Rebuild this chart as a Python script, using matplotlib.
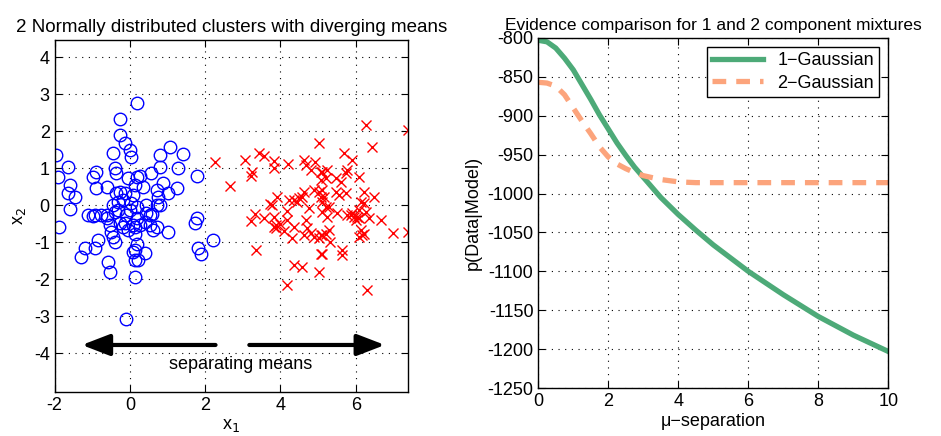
import numpy as np
import matplotlib.pyplot as plt

plt.rcParams['font.family'] = ['Liberation Sans', 'DejaVu Sans']
plt.rcParams['font.size'] = 13
plt.rcParams['axes.unicode_minus'] = False

# cluster 1 (circles)
blue_x = [0.18, -0.27, -0.27, -0.13, 0.0, 0.02, -1.95, -1.65, -1.91, -0.44,
          -0.40, -0.36, -0.98, -0.89, -1.60, -0.89, -0.62, -1.65, -1.47, -1.60,
          -0.04, 0.18, -0.27, -0.13, -0.31, -0.18, 0.09, -0.44, 0.04, -1.11,
          -0.93, -0.62, -0.40, -0.31, -0.09, 1.07, 1.42, 0.80, 0.80, 1.27,
          1.78, 0.27, 0.55, 0.89, 1.24, 0.36, 0.13, 0.71, 1.02, 0.76,
          0.80, 0.18, 0.44, 0.58, 1.78, -1.87, -0.98, -0.76, -0.62, -0.13,
          0.09, 0.13, 0.18, -0.53, -0.49, -0.44, -0.40, -0.27, -0.18, -0.04,
          -0.84, -0.93, -1.20, -1.29, -0.58, -0.53, 0.09, 0.13, 0.13, -0.09,
          1.73, 2.22, 1.82, 1.89, 1.02, 0.62, 0.53, 0.71, 0.40, 0.27,
          0.13, 0.40, 0.22, 0.18, 0.13, -0.36, 0.00, 0.44, 0.53, 0.71]
blue_y = [2.75, 2.34, 1.89, 1.67, 1.49, 1.30, 1.35, 1.04, 0.77, 1.40,
          1.00, 0.86, 0.77, 0.90, 0.54, 0.45, 0.48, 0.32, 0.21, -0.11,
          0.72, 0.77, 0.36, 0.33, 0.09, 0.14, 0.27, 0.00, 0.05, -0.27,
          -0.27, -0.27, -0.18, -0.14, -0.27, 1.58, 1.38, 1.35, 1.04, 1.01,
          0.78, 0.78, 0.87, 0.61, 0.47, 0.49, 0.54, 0.41, 0.33, 0.22,
          0.00, -0.05, -0.22, -0.24, -0.36, -0.60, -0.30, -0.27, -0.36, -0.49,
          -0.54, -0.77, -0.36, -0.54, -0.72, -0.86, -0.99, -0.49, -0.59, -0.68,
          -0.95, -1.17, -1.17, -1.40, -1.53, -1.80, -1.26, -1.49, -1.94, -3.09,
          -0.49, -0.95, -1.17, -1.31, -0.72, -0.68, -0.54, -0.59, -0.45, -0.54,
          -0.59, -1.29, -1.49, -1.04, -1.22, 0.32, -0.14, 0.00, -0.27, 0.00]

# cluster 2 (crosses)
red_x = [2.27, 3.07, 3.42, 3.56, 3.24, 3.22, 3.82, 3.82, 2.67, 3.91,
         3.73, 3.33, 3.22, 3.56, 3.82, 3.87, 3.82, 3.36, 4.20, 5.02,
         4.62, 4.67, 4.93, 4.80, 5.07, 3.78, 4.22, 4.35, 4.49, 4.58,
         4.62, 4.45, 4.89, 5.02, 5.07, 4.76, 3.87, 4.18, 4.18, 4.00,
         4.35, 4.09, 4.31, 4.67, 4.71, 4.80, 4.62, 4.89, 5.02, 5.11,
         5.07, 4.35, 4.58, 5.02, 4.18, 6.27, 7.39, 6.44, 5.69, 5.91,
         5.78, 5.73, 6.09, 5.11, 5.20, 5.07, 5.47, 5.24, 5.60, 6.22,
         6.49, 5.47, 5.56, 5.73, 6.13, 6.22, 6.09, 6.27, 5.11, 5.16,
         5.11, 5.20, 5.29, 5.11, 5.24, 5.51, 5.78, 5.87, 5.96, 5.91,
         6.04, 6.00, 6.09, 6.36, 6.67, 6.98, 7.39, 6.13, 6.22, 6.09,
         6.18, 5.29, 5.20, 5.07, 5.33, 5.11, 5.64, 5.64, 6.31]
red_y = [1.17, 1.23, 1.40, 1.32, 0.90, 0.78, 1.20, 0.99, 0.52, 0.22,
         0.02, -0.23, -0.42, -0.36, -0.32, -0.54, -0.59, -1.22, 1.10, 1.67,
         1.22, 1.08, 1.17, 0.95, 0.90, 0.00, 0.14, 0.15, 0.18, 0.22,
         0.36, 0.09, 0.41, 0.36, 0.22, -0.09, -0.63, -0.15, -0.41, -0.50,
         -0.59, -0.70, -0.90, -0.41, -0.63, -0.76, -0.81, -0.85, -0.90, -0.81,
         -1.31, -1.62, -1.67, -1.80, -2.16, 2.16, 2.03, 1.56, 1.40, 1.22,
         0.95, 0.86, 0.77, 0.90, 0.72, 0.68, 0.72, 0.95, 0.63, 0.36,
         0.22, 0.36, 0.27, 0.32, 0.09, 0.05, -0.14, -0.18, 0.41, 0.22,
         0.09, -0.05, -0.05, -0.18, -0.32, -0.22, -0.27, -0.27, -0.32, -0.22,
         -0.32, -0.41, -0.36, -0.36, -0.39, -0.75, -0.72, -0.68, -0.77, -0.86,
         -0.81, -0.68, -0.78, -0.81, -0.99, -1.31, -1.22, -1.35, -2.30]

# evidence curves
mu_sep = [0, 0.25, 0.5, 0.75, 1.0, 1.25, 1.5, 1.75, 2.0, 2.25, 2.5, 2.75,
          3.0, 3.5, 4.0, 4.5, 5.0, 6.0, 7.0, 8.0, 9.0, 10.0]
ev_1g = [-803, -805, -813, -826, -841, -860, -879, -899, -917, -935, -951, -966,
         -979, -1005, -1027, -1047, -1066, -1100, -1130, -1158, -1182, -1203]
ev_2g = [-857, -858, -862, -873, -890, -907, -923, -940, -953, -962, -968, -973,
         -977, -982, -985, -986, -986, -986, -986, -986, -986, -986]


def matlab_axes(ax):
    ax.tick_params(direction='in', top=True, right=True, length=5)
    ax.grid(True, color='k', linestyle=(0, (1, 5)), linewidth=0.8)
    for s in ax.spines.values():
        s.set_linewidth(1.0)


fig = plt.figure(figsize=(9.41, 4.36), dpi=100)

ax1 = fig.add_axes([0.058, 0.101, 0.376, 0.807])
ax1.plot(blue_x, blue_y, 'o', mfc='none', mec='b', ms=9, mew=1.0)
ax1.plot(red_x, red_y, 'x', color='r', ms=7, mew=1.0)
ax1.set_xlim(-2, 7.4)
ax1.set_ylim(-5.05, 4.46)
ax1.set_xticks([-2, 0, 2, 4, 6])
ax1.set_yticks(np.arange(-4, 5, 1))
matlab_axes(ax1)
ax1.set_xlabel(r'x$_1$', labelpad=2)
ax1.set_ylabel(r'x$_2$', labelpad=4)
ax1.set_title('2 Normally distributed clusters with diverging means', fontsize=13.5)

arrow_kw = dict(arrowstyle='-|>,head_length=1.3,head_width=0.5', color='k', lw=3)
ax1.annotate('', xy=(-1.35, -3.78), xytext=(2.35, -3.78), arrowprops=arrow_kw)
ax1.annotate('', xy=(6.85, -3.78), xytext=(3.1, -3.78), arrowprops=arrow_kw)
ax1.text(2.93, -4.32, 'separating means', ha='center', va='center')

ax2 = fig.add_axes([0.572, 0.110, 0.372, 0.803])
ax2.plot(mu_sep, ev_1g, color='#4daa78', lw=3.8, label='1\u2212Gaussian')
ax2.plot(mu_sep, ev_2g, color='#fca47c', lw=3.8, linestyle=(0, (2.6, 1.9)),
         label='2\u2212Gaussian')
ax2.set_xlim(0, 10)
ax2.set_ylim(-1250, -800)
ax2.set_xticks(np.arange(0, 11, 2))
ax2.set_yticks(np.arange(-1250, -799, 50))
matlab_axes(ax2)
ax2.set_xlabel('\u03bc\u2212separation', labelpad=2)
ax2.set_ylabel('p(Data|Model)')
ax2.set_title('Evidence comparison for 1 and 2 component mixtures', fontsize=12.5)
leg = ax2.legend(loc='upper right', fancybox=False, framealpha=1,
                 edgecolor='k', handlelength=2.8, borderaxespad=0.5,
                 borderpad=0.3, labelspacing=0.3)
leg.get_frame().set_linewidth(1.0)

fig.savefig('out.png', dpi=100)
